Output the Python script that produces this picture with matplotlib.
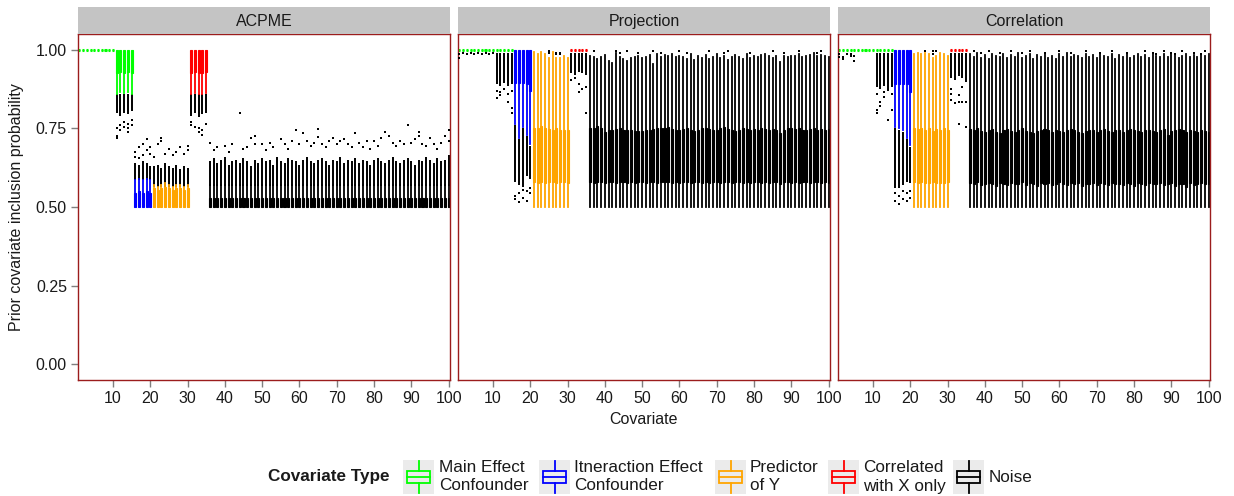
import numpy as np
import matplotlib
matplotlib.use("Agg")
import matplotlib.pyplot as plt
from matplotlib.patches import Rectangle

plt.rcParams['font.family'] = ['Liberation Sans', 'DejaVu Sans']

NaN = float('nan')

# ---------------- data ----------------
panel_names = ["ACPME", "Projection", "Correlation"]
covariates = list(range(1, 101))
x_ticks = [10, 20, 30, 40, 50, 60, 70, 80, 90, 100]
y_ticks = [0.0, 0.25, 0.5, 0.75, 1.0]
y_tick_labels = ["0.00", "0.25", "0.50", "0.75", "1.00"]
type_labels = ["Main Effect\nConfounder", "Itneraction Effect\nConfounder",
               "Predictor\nof Y", "Correlated\nwith X only", "Noise"]
type_colors = ["#00FF00", "#0000FF", "#FFA500", "#FF0000", "#000000"]
covariate_type = [0] * 15 + [1] * 5 + [2] * 10 + [3] * 5 + [4] * 65

# ---- ACPME ----
acpme_noise_strip_top = [
    0.645, 0.655, 0.640, 0.650, 0.660, 0.635, 0.645, 0.650, 0.640, 0.655,
    0.645, 0.630, 0.650, 0.640, 0.655, 0.645, 0.650, 0.635, 0.660, 0.645,
    0.640, 0.655, 0.650, 0.645, 0.635, 0.650, 0.660, 0.645, 0.640, 0.650,
    0.655, 0.645, 0.635, 0.650, 0.645, 0.660, 0.640, 0.650, 0.645, 0.655,
    0.640, 0.650, 0.645, 0.635, 0.650, 0.655, 0.645, 0.640, 0.650, 0.660,
    0.645, 0.640, 0.650, 0.655, 0.645, 0.635, 0.650, 0.645, 0.660, 0.650,
    0.640, 0.655, 0.645, 0.650, 0.665]
acpme_q1 = [1.0] * 10 + [0.925, 0.93, 0.925, 0.93, 0.925] + [0.50] * 5 + [0.50] * 10 \
    + [0.925, 0.93, 0.925, 0.925, 0.93] + [0.50] * 65
acpme_med = [1.0] * 10 + [0.975] * 5 + [0.515] * 5 + [0.52] * 10 + [0.975] * 5 + [0.505] * 65
acpme_q3 = [1.0] * 15 + [0.545, 0.55, 0.545, 0.55, 0.545] \
    + [0.56, 0.555, 0.56, 0.565, 0.56, 0.555, 0.56, 0.56, 0.555, 0.56] + [1.0] * 5 + [0.528] * 65
acpme_wlo = [1.0] * 10 + [0.86, 0.865, 0.862, 0.865, 0.858] + [0.50] * 15 \
    + [0.86, 0.862, 0.858, 0.86, 0.862] + [0.50] * 65
acpme_whi = [1.0] * 15 + [0.585, 0.59, 0.585, 0.59, 0.585] \
    + [0.57, 0.565, 0.57, 0.575, 0.57, 0.565, 0.57, 0.57, 0.565, 0.57] + [1.0] * 5 + [0.57] * 65
acpme_strip_lo = [NaN] * 10 + [0.80, 0.79, 0.80, 0.795, 0.805] + [0.585] * 5 + [0.565] * 10 \
    + [0.79, 0.80, 0.785, 0.795, 0.80] + [0.568] * 65
acpme_strip_hi = [NaN] * 10 + [0.86] * 5 + [0.64, 0.635, 0.645, 0.64, 0.63] \
    + [0.63, 0.635, 0.625, 0.64, 0.63, 0.625, 0.635, 0.62, 0.63, 0.625] + [0.86] * 5 \
    + acpme_noise_strip_top
acpme_sparse = [
    (11, 0.75), (11, 0.725), (11, 0.72), (12, 0.76), (12, 0.745), (13, 0.77), (13, 0.755),
    (14, 0.765), (14, 0.75), (14, 0.74), (15, 0.775), (15, 0.76),
    (16, 0.66), (16, 0.675), (17, 0.69), (17, 0.655), (18, 0.70), (18, 0.665), (19, 0.715),
    (19, 0.68), (20, 0.67), (20, 0.69),
    (21, 0.66), (22, 0.70), (23, 0.72), (23, 0.71), (24, 0.67), (25, 0.685), (26, 0.665),
    (27, 0.675), (28, 0.69), (29, 0.67), (30, 0.695), (30, 0.68),
    (31, 0.77), (31, 0.76), (32, 0.755), (33, 0.74), (33, 0.75), (34, 0.73), (34, 0.745), (35, 0.765),
    (36, 0.705), (37, 0.68), (38, 0.69), (40, 0.695), (41, 0.675), (42, 0.70), (44, 0.80),
    (45, 0.685), (46, 0.69), (47, 0.72), (48, 0.725), (48, 0.70), (50, 0.70), (51, 0.68),
    (52, 0.705), (53, 0.69), (55, 0.715), (56, 0.70), (57, 0.685), (58, 0.71), (59, 0.745),
    (60, 0.70), (61, 0.735), (62, 0.71), (63, 0.695), (64, 0.705), (65, 0.747), (65, 0.724),
    (66, 0.70), (67, 0.69), (68, 0.71), (69, 0.72), (70, 0.70), (71, 0.71), (72, 0.715),
    (73, 0.70), (74, 0.69), (75, 0.735), (76, 0.705), (77, 0.69), (78, 0.71), (79, 0.685),
    (80, 0.71), (81, 0.695), (82, 0.72), (83, 0.74), (84, 0.727), (85, 0.705), (86, 0.695),
    (87, 0.71), (88, 0.70), (89, 0.76), (90, 0.705), (91, 0.715), (92, 0.74), (92, 0.725),
    (93, 0.70), (94, 0.695), (95, 0.72), (96, 0.70), (97, 0.685), (98, 0.705), (99, 0.725),
    (100, 0.745), (100, 0.71)]

# ---- Projection ----
proj_noise_q1 = [
    0.578, 0.575, 0.580, 0.578, 0.576, 0.580, 0.578, 0.575, 0.578, 0.580,
    0.576, 0.578, 0.575, 0.580, 0.578, 0.576, 0.578, 0.580, 0.575, 0.578,
    0.580, 0.578, 0.576, 0.578, 0.575, 0.580, 0.578, 0.576, 0.578, 0.580,
    0.575, 0.578, 0.576, 0.580, 0.578, 0.575, 0.578, 0.580, 0.576, 0.578,
    0.580, 0.575, 0.578, 0.576, 0.580, 0.578, 0.575, 0.578, 0.576, 0.580,
    0.578, 0.572, 0.578, 0.580, 0.576, 0.578, 0.575, 0.580, 0.578, 0.576,
    0.578, 0.580, 0.575, 0.578, 0.576]
proj_noise_q3 = [
    0.752, 0.752, 0.756, 0.752, 0.738, 0.746, 0.746, 0.749, 0.752, 0.746,
    0.744, 0.744, 0.741, 0.741, 0.741, 0.746, 0.744, 0.749, 0.752, 0.752,
    0.752, 0.753, 0.749, 0.744, 0.746,
    0.748, 0.750, 0.745, 0.742, 0.746, 0.750, 0.752, 0.748, 0.744, 0.746,
    0.750, 0.753, 0.748, 0.745, 0.742, 0.746, 0.750, 0.748, 0.744, 0.748,
    0.746, 0.750, 0.748, 0.745, 0.748, 0.746, 0.735, 0.745, 0.750, 0.752,
    0.748, 0.750, 0.746, 0.744, 0.748, 0.750, 0.746, 0.748, 0.744, 0.748]
proj_noise_whi = [
    0.981, 0.976, 0.970, 0.976, 0.983, 0.965, 0.958, 0.990, 0.976, 0.970,
    0.965, 0.973, 0.976, 0.981, 0.973, 0.976, 0.983, 0.955, 0.986, 0.976,
    0.983, 0.981, 0.986, 0.976, 0.981,
    0.978, 0.972, 0.985, 0.968, 0.980, 0.975, 0.983, 0.970, 0.978, 0.985,
    0.973, 0.980, 0.968, 0.976, 0.983, 0.978, 0.970, 0.985, 0.975, 0.980,
    0.976, 0.983, 0.988, 0.981, 0.973, 0.980, 0.962, 0.981, 0.976, 0.981,
    0.979, 0.986, 0.976, 0.981, 0.983, 0.990, 0.981, 0.983, 0.981, 0.976]
proj_q1 = [1.0] * 15 + [0.895, 0.895, 0.895, 0.89, 0.87] \
    + [0.578, 0.575, 0.578, 0.575, 0.58, 0.578, 0.575, 0.58, 0.578, 0.575] + [1.0] * 5 + proj_noise_q1
proj_med = [1.0] * 15 + [0.97] * 5 + [0.66] * 10 + [1.0] * 5 + [0.66] * 65
proj_q3 = [1.0] * 20 + [0.75, 0.752, 0.756, 0.752, 0.748, 0.745, 0.75, 0.744, 0.746, 0.744] \
    + [1.0] * 5 + proj_noise_q3
proj_wlo = [1.0] * 15 + [0.765, 0.72, 0.755, 0.73, 0.70] + [0.50] * 10 + [1.0] * 5 + [0.50] * 65
proj_whi = [1.0] * 20 + [0.993, 0.988, 0.993, 0.985, 0.975, 0.992, 0.975, 0.975, 0.98, 0.975] \
    + [1.0] * 5 + proj_noise_whi
proj_strip_lo = [NaN] * 10 + [0.89, 0.885, 0.895, 0.885, 0.89] + [0.58, 0.57, 0.565, 0.60, 0.59] \
    + [NaN] * 10 + [0.925, 0.92, 0.93, 0.925, 0.92] + [NaN] * 65
proj_strip_hi = [NaN] * 10 + [0.99] * 5 + [0.76, 0.715, 0.75, 0.725, 0.695] \
    + [NaN] * 10 + [0.99] * 5 + [NaN] * 65
proj_sparse = [
    (1, 0.988), (1, 0.975), (2, 0.99), (3, 0.985), (4, 0.99), (5, 0.985), (6, 0.99),
    (7, 0.985), (8, 0.99), (9, 0.985), (10, 0.99),
    (11, 0.845), (11, 0.87), (12, 0.865), (12, 0.855), (13, 0.875), (14, 0.835), (14, 0.86),
    (15, 0.815), (15, 0.80), (15, 0.87),
    (16, 0.535), (16, 0.525), (17, 0.545), (17, 0.515), (18, 0.53), (18, 0.555), (19, 0.55),
    (19, 0.52), (20, 0.545), (20, 0.56),
    (25, 0.99), (25, 0.995), (27, 0.99), (27, 0.985), (28, 0.99), (28, 0.985),
    (31, 0.905), (32, 0.91), (33, 0.865), (33, 0.89), (34, 0.875), (35, 0.80), (35, 0.88),
    (37, 0.995), (43, 0.995), (44, 0.99), (46, 0.995), (49, 0.99), (53, 0.995), (55, 0.99),
    (60, 0.995), (62, 0.99), (68, 0.995), (72, 0.99), (73, 0.995), (79, 0.99), (85, 0.995),
    (88, 0.99), (92, 0.995), (97, 0.99), (98, 0.995)]

# ---- Correlation ----
corr_noise_q1 = [
    0.575, 0.572, 0.578, 0.570, 0.574, 0.576, 0.572, 0.568, 0.575, 0.573,
    0.570, 0.576, 0.574, 0.572, 0.578, 0.570, 0.575, 0.573, 0.568, 0.576,
    0.572, 0.575, 0.570, 0.574, 0.578, 0.572, 0.570, 0.575, 0.573, 0.576,
    0.568, 0.574, 0.572, 0.575, 0.570, 0.576, 0.573, 0.571, 0.575, 0.572,
    0.574, 0.570, 0.576, 0.572, 0.568, 0.575, 0.573, 0.570, 0.576, 0.574,
    0.572, 0.575, 0.570, 0.573, 0.576, 0.568, 0.574, 0.572, 0.565, 0.575,
    0.570, 0.573, 0.576, 0.572, 0.574]
corr_noise_q3 = [
    0.748, 0.745, 0.750, 0.742, 0.738, 0.745, 0.748, 0.740, 0.736, 0.744,
    0.747, 0.742, 0.738, 0.745, 0.750, 0.743, 0.740, 0.736, 0.742, 0.746,
    0.748, 0.744, 0.740, 0.745, 0.742, 0.738, 0.744, 0.748, 0.745, 0.740,
    0.736, 0.742, 0.746, 0.744, 0.740, 0.745, 0.748, 0.742, 0.738, 0.744,
    0.746, 0.740, 0.744, 0.748, 0.745, 0.742, 0.738, 0.744, 0.746, 0.742,
    0.740, 0.745, 0.748, 0.730, 0.742, 0.745, 0.748, 0.744, 0.740, 0.746,
    0.742, 0.738, 0.745, 0.742, 0.740]
corr_noise_whi = [
    0.985, 0.978, 0.990, 0.975, 0.983, 0.970, 0.986, 0.980, 0.976, 0.988,
    0.973, 0.983, 0.978, 0.990, 0.975, 0.980, 0.986, 0.972, 0.983, 0.978,
    0.988, 0.975, 0.981, 0.970, 0.985, 0.978, 0.990, 0.976, 0.983, 0.980,
    0.973, 0.986, 0.978, 0.983, 0.975, 0.988, 0.980, 0.976, 0.985, 0.972,
    0.983, 0.978, 0.990, 0.975, 0.981, 0.986, 0.978, 0.983, 0.973, 0.988,
    0.980, 0.976, 0.985, 0.978, 0.990, 0.983, 0.975, 0.981, 0.986, 0.978,
    0.983, 0.976, 0.988, 0.980, 0.985]
corr_q1 = [1.0] * 15 + [0.89, 0.89, 0.89, 0.89, 0.865] \
    + [0.578, 0.575, 0.578, 0.576, 0.575, 0.578, 0.575, 0.577, 0.575, 0.578] + [1.0] * 5 + corr_noise_q1
corr_med = [1.0] * 15 + [0.97] * 5 + [0.66] * 10 + [1.0] * 5 + [0.655] * 65
corr_q3 = [1.0] * 20 + [0.75, 0.748, 0.752, 0.745, 0.75, 0.742, 0.748, 0.745, 0.75, 0.746] \
    + [1.0] * 5 + corr_noise_q3
corr_wlo = [1.0] * 15 + [0.754, 0.75, 0.745, 0.72, 0.696] + [0.50] * 10 + [1.0] * 5 + [0.50] * 65
corr_whi = [1.0] * 20 + [0.985, 0.99, 0.985, 0.99, 0.985, 0.975, 0.98, 0.99, 0.985, 0.98] \
    + [1.0] * 5 + corr_noise_whi
corr_strip_lo = [NaN] * 10 + [0.88, 0.875, 0.885, 0.87, 0.88] + [0.56, 0.56, 0.57, 0.58, 0.575] \
    + [NaN] * 10 + [0.91, 0.905, 0.915, 0.91, 0.905] + [NaN] * 65
corr_strip_hi = [NaN] * 10 + [0.99] * 5 + [0.75, 0.745, 0.74, 0.715, 0.69] \
    + [NaN] * 10 + [0.99] * 5 + [NaN] * 65
corr_sparse = [
    (1, 0.985), (1, 0.978), (2, 0.978), (2, 0.97), (3, 0.985), (4, 0.985), (4, 0.98),
    (5, 0.98), (5, 0.965),
    (11, 0.80), (11, 0.807), (11, 0.86), (12, 0.833), (12, 0.82), (13, 0.865), (13, 0.85),
    (14, 0.775), (15, 0.807), (15, 0.86),
    (16, 0.52), (16, 0.545), (17, 0.51), (17, 0.535), (18, 0.525), (18, 0.55), (19, 0.52),
    (19, 0.545), (20, 0.55), (20, 0.53),
    (24, 0.995), (26, 0.995), (26, 0.985), (27, 0.995),
    (31, 0.84), (31, 0.875), (31, 0.86), (32, 0.83), (33, 0.855), (33, 0.833), (33, 0.765),
    (34, 0.833), (34, 0.88), (35, 0.833), (35, 0.90), (35, 0.755),
    (37, 0.995), (39, 0.99), (41, 0.995), (44, 0.99), (47, 0.995), (50, 0.99), (52, 0.995),
    (56, 0.99), (60, 0.995), (63, 0.99), (67, 0.995), (71, 0.99), (74, 0.995), (78, 0.99),
    (83, 0.995), (85, 0.99), (86, 0.985), (88, 0.995), (90, 0.99), (91, 0.985), (93, 0.995),
    (96, 0.99), (98, 0.985), (99, 0.995)]

panel_data = [
    (acpme_q1, acpme_med, acpme_q3, acpme_wlo, acpme_whi, acpme_strip_lo, acpme_strip_hi, acpme_sparse),
    (proj_q1, proj_med, proj_q3, proj_wlo, proj_whi, proj_strip_lo, proj_strip_hi, proj_sparse),
    (corr_q1, corr_med, corr_q3, corr_wlo, corr_whi, corr_strip_lo, corr_strip_hi, corr_sparse),
]

# ---------------- figure ----------------
W, H = 1234, 496
fig = plt.figure(figsize=(W / 100, H / 100), dpi=100)
panel_px = [(78, 450), (458, 830), (838, 1210)]
top_px, bot_px, strip_top = 34, 380, 7
border_col = "#9b1c1c"
tick_col = "#7f7f7f"
txt_col = "#1a1a1a"
fs = 11.5
lfs = 12.3

for p, name in enumerate(panel_names):
    x0, x1 = panel_px[p]
    q1, med, q3, wlo, whi, slo, shi, sparse = panel_data[p]
    ax = fig.add_axes([x0 / W, 1 - bot_px / H, (x1 - x0) / W, (bot_px - top_px) / H])
    stats = []
    for i in range(len(covariates)):
        stats.append(dict(med=med[i], q1=q1[i], q3=q3[i], whislo=wlo[i], whishi=whi[i], fliers=[]))
    arts = ax.bxp(stats, positions=covariates, widths=0.55, patch_artist=True,
                  showfliers=False, showcaps=False, manage_ticks=False)
    for i in range(len(covariates)):
        c = type_colors[covariate_type[i]]
        arts['boxes'][i].set(facecolor=c, edgecolor=c, linewidth=0.8)
        arts['medians'][i].set(color=c, linewidth=2.2)
        arts['whiskers'][2 * i].set(color=c, linewidth=1.3)
        arts['whiskers'][2 * i + 1].set(color=c, linewidth=1.3)
    cov = np.array(covariates)
    lo = np.array(slo)
    hi = np.array(shi)
    m = ~np.isnan(lo)
    ax.vlines(cov[m], lo[m], hi[m], color="black", linewidth=1.4, zorder=1.5)
    sx = [s[0] for s in sparse]
    sy = [s[1] for s in sparse]
    ax.scatter(sx, sy, s=2.4, marker='s', c="black", linewidths=0, zorder=3)

    ax.set_xlim(0.625, 100.375)
    ax.set_ylim(-0.05, 1.05)
    ax.set_xticks(x_ticks)
    ax.set_xticklabels([str(t) for t in x_ticks])
    ax.set_yticks(y_ticks)
    ax.set_yticklabels(y_tick_labels)
    ax.tick_params(direction='out', length=5, width=1, color=tick_col,
                   labelsize=fs, labelcolor=txt_col, pad=3)
    if p > 0:
        ax.tick_params(axis='y', left=False, labelleft=False)
    for sp in ax.spines.values():
        sp.set_color(border_col)
        sp.set_linewidth(1.0)

    sax = fig.add_axes([x0 / W, 1 - top_px / H, (x1 - x0) / W, (top_px - strip_top) / H])
    sax.set_facecolor("#c4c4c4")
    sax.set_xticks([])
    sax.set_yticks([])
    for sp in sax.spines.values():
        sp.set_visible(False)
    sax.text(0.5, 0.48, name, ha='center', va='center', fontsize=fs, color=txt_col,
             transform=sax.transAxes)

fig.text(644 / W, 1 - 420 / H, "Covariate", ha='center', va='center', fontsize=fs, color=txt_col)
fig.text(17 / W, 1 - 207 / H, "Prior covariate inclusion probability", ha='center', va='center',
         rotation=90, fontsize=fs, color=txt_col)

# ---------------- legend ----------------
lax = fig.add_axes([0, 0, 1, 1])
lax.set_xlim(0, W)
lax.set_ylim(H, 0)
lax.axis('off')
lax.text(268, 477, "Covariate Type", ha='left', va='center', fontsize=lfs, fontweight='bold',
         color=txt_col)
key_left = [403, 539, 715, 828, 953]
label_left = [439, 574, 750, 863, 989]
for k in range(len(type_labels)):
    kl = key_left[k]
    lax.add_patch(Rectangle((kl, 460), 31, 34, facecolor="#ebebeb", edgecolor='none'))
    c = type_colors[k]
    lax.add_patch(Rectangle((kl + 4, 471), 23, 11.5, facecolor='none', edgecolor=c, linewidth=1.3))
    lax.plot([kl + 4, kl + 27], [476.8, 476.8], color=c, linewidth=1.3)
    lax.plot([kl + 15.5, kl + 15.5], [461, 471], color=c, linewidth=1.3)
    lax.plot([kl + 15.5, kl + 15.5], [482.5, 493], color=c, linewidth=1.3)
    lax.text(label_left[k], 477, type_labels[k], ha='left', va='center', fontsize=lfs,
             color=txt_col, linespacing=1.25)

fig.savefig("out.png", dpi=100)
